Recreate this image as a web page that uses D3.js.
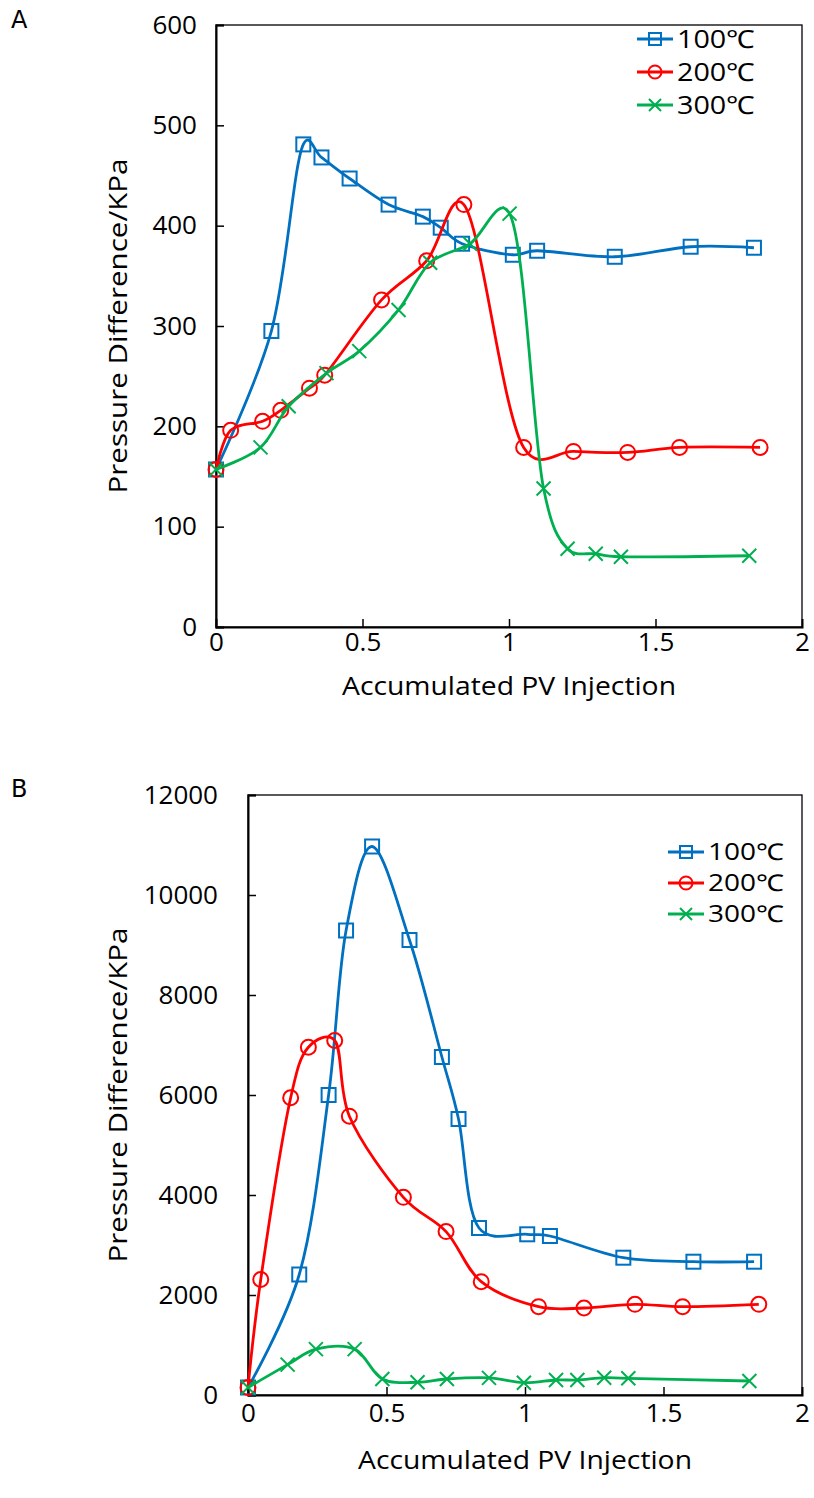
<!DOCTYPE html>
<html>
<head>
<meta charset="utf-8">
<script src="https://cdn.jsdelivr.net/npm/d3@7"></script>
<style>
  body { margin: 0; background: #fff; }
  svg text { fill: #000; }
</style>
</head>
<body>
<div id="chart"></div>
<script>
// ---- data ----
var seriesNames = ["100℃", "200℃", "300℃"];

// panel A (kPa)
var a100x = [0, 0.189, 0.298, 0.360, 0.456, 0.589, 0.706, 0.767, 0.840, 1.013, 1.096, 1.361, 1.620, 1.836];
var a100y = [157, 295, 481, 468, 447, 421, 409, 398, 382, 371, 375, 369, 379, 378];
var a200x = [0, 0.050, 0.159, 0.221, 0.319, 0.371, 0.565, 0.719, 0.846, 1.050, 1.220, 1.405, 1.582, 1.857];
var a200y = [157, 196, 205, 216, 238, 251, 326, 365, 421, 179, 175, 174, 179, 179];
var a300x = [0, 0.152, 0.248, 0.377, 0.489, 0.623, 0.731, 0.867, 1.002, 1.118, 1.200, 1.296, 1.382, 1.820];
var a300y = [157, 179, 220, 253, 275, 316, 363, 382, 412, 138, 78, 73, 70, 71];

// panel B (kPa)
var b100x = [0, 0.185, 0.291, 0.354, 0.448, 0.583, 0.700, 0.760, 0.834, 1.008, 1.090, 1.355, 1.608, 1.827];
var b100y = [150, 2410, 6000, 9290, 10970, 9100, 6760, 5520, 3340, 3214, 3180, 2746, 2666, 2666];
var b200x = [0, 0.046, 0.154, 0.218, 0.313, 0.366, 0.561, 0.715, 0.842, 1.049, 1.213, 1.397, 1.569, 1.844];
var b200y = [150, 2310, 5945, 6955, 7090, 5576, 3954, 3268, 2266, 1766, 1740, 1814, 1766, 1814];
var b300x = [0, 0.143, 0.245, 0.385, 0.485, 0.612, 0.718, 0.870, 0.996, 1.112, 1.189, 1.286, 1.373, 1.810];
var b300y = [150, 607, 917, 917, 320, 254, 320, 342, 246, 300, 300, 346, 334, 280];

var xTicks = [0, 0.5, 1, 1.5, 2];
var yTicksA = [0, 100, 200, 300, 400, 500, 600];
var yTicksB = [0, 2000, 4000, 6000, 8000, 10000, 12000];

var colors = ["#0070C0", "#FF0000", "#00B050"];
var markers = ["square", "circle", "cross"];

var svg = d3.select("#chart").append("svg")
  .attr("width", 814)
  .attr("height", 1498);

function zip(xs, ys) {
  return xs.map(function(x, i) { return {x: x, y: ys[i]}; });
}

function drawMarker(g, type, color, cx, cy, s) {
  s = s || 7;
  if (type == "square") {
    g.append("rect")
      .attr("x", cx - s).attr("y", cy - s)
      .attr("width", 2 * s).attr("height", 2 * s)
      .attr("fill", "none").attr("stroke", color).attr("stroke-width", 2);
  } else if (type == "circle") {
    g.append("circle")
      .attr("cx", cx).attr("cy", cy).attr("r", s + 0.5)
      .attr("fill", "none").attr("stroke", color).attr("stroke-width", 2);
  } else {
    g.append("path")
      .attr("d", "M" + (cx - s) + "," + (cy - s) + "L" + (cx + s) + "," + (cy + s) +
                 "M" + (cx - s) + "," + (cy + s) + "L" + (cx + s) + "," + (cy - s))
      .attr("stroke", color).attr("stroke-width", 2);
  }
}

function drawPanel(cfg) {
  var x = d3.scaleLinear().domain([0, 2]).range([cfg.left, cfg.right]);
  var y = d3.scaleLinear().domain(cfg.yDomain).range([cfg.bottom, cfg.top]);

  var g = svg.append("g");

  // panel letter
  g.append("text")
    .attr("x", 11).attr("y", cfg.letterY)
    .attr("font-family", "'DejaVu Sans', sans-serif")
    .attr("font-size", 24)
    .text(cfg.letter);

  // plot box
  g.append("rect")
    .attr("x", cfg.left).attr("y", cfg.top)
    .attr("width", cfg.right - cfg.left).attr("height", cfg.bottom - cfg.top)
    .attr("fill", "none").attr("stroke", "#000").attr("stroke-width", 1.3);

  // left axis, inward ticks
  var ya = g.append("g")
    .attr("transform", "translate(" + cfg.left + ",0)")
    .call(d3.axisRight(y).tickValues(cfg.yTicks).tickSize(8).tickFormat(d3.format("d")));
  ya.select(".domain").attr("stroke-width", 2);
  ya.selectAll(".tick line").attr("stroke-width", 1.5);
  ya.selectAll(".tick text")
    .attr("x", -cfg.yLabelGap)
    .attr("text-anchor", "end")
    .attr("font-family", "'Open Sans', sans-serif")
    .attr("font-size", 26);

  // bottom axis, inward ticks
  var xa = g.append("g")
    .attr("transform", "translate(0," + cfg.bottom + ")")
    .call(d3.axisTop(x).tickValues(xTicks).tickSize(8).tickFormat(d3.format("")));
  xa.select(".domain").attr("stroke-width", 2);
  xa.selectAll(".tick line").attr("stroke-width", 1.5)
    .attr("display", function(d) { return (d == 0 || d == 2) ? "none" : null; });
  xa.selectAll(".tick text")
    .attr("y", cfg.xLabelGap).attr("dy", "0.36em")
    .attr("font-family", "'Open Sans', sans-serif")
    .attr("font-size", 26);

  // axis titles
  g.append("text")
    .attr("transform", "translate(" + 127 + "," + ((cfg.top + cfg.bottom) / 2) + ") rotate(-90)")
    .attr("text-anchor", "middle")
    .attr("font-family", "'Open Sans', sans-serif")
    .attr("font-size", 26)
    .attr("textLength", 335)
    .attr("lengthAdjust", "spacingAndGlyphs")
    .text("Pressure Difference/KPa");

  g.append("text")
    .attr("x", (cfg.left + cfg.right) / 2)
    .attr("y", cfg.bottom + cfg.xTitleGap)
    .attr("text-anchor", "middle")
    .attr("font-family", "'Open Sans', sans-serif")
    .attr("font-size", 26)
    .attr("textLength", 334)
    .attr("lengthAdjust", "spacingAndGlyphs")
    .text("Accumulated PV Injection");

  // smoothed line like the spreadsheet's "smooth line" option
  var line = d3.line()
    .x(function(d) { return x(d.x); })
    .y(function(d) { return y(d.y); })
    .curve(d3.curveCatmullRom.alpha(0.2));

  cfg.series.forEach(function(s, i) {
    var pts = zip(s[0], s[1]);
    g.append("path")
      .datum(pts)
      .attr("fill", "none")
      .attr("stroke", colors[i])
      .attr("stroke-width", 2.8)
      .attr("stroke-linejoin", "round")
      .attr("d", line);
    pts.forEach(function(p) {
      drawMarker(g, markers[i], colors[i], x(p.x), y(p.y));
    });
  });

  // legend
  seriesNames.forEach(function(name, i) {
    var ly = cfg.legendY + i * cfg.legendStep;
    g.append("line")
      .attr("x1", cfg.legendX).attr("x2", cfg.legendX + 36)
      .attr("y1", ly).attr("y2", ly)
      .attr("stroke", colors[i]).attr("stroke-width", 3);
    drawMarker(g, markers[i], colors[i], cfg.legendX + 18, ly, 6);
    g.append("text")
      .attr("x", cfg.legendX + 40).attr("y", ly)
      .attr("dy", "0.36em")
      .attr("font-family", "'Open Sans', sans-serif")
      .attr("font-size", cfg.legendFont)
      .attr("textLength", cfg.legendWidth)
      .attr("lengthAdjust", "spacingAndGlyphs")
      .text(name);
  });
}

drawPanel({
  letter: "A", letterY: 28,
  left: 216, right: 802, top: 25, bottom: 627,
  yDomain: [0, 600], yTicks: yTicksA, yLabelGap: 19,
  xLabelGap: 15, xTitleGap: 68,
  series: [[a100x, a100y], [a200x, a200y], [a300x, a300y]],
  legendX: 637, legendY: 39, legendStep: 33, legendFont: 25, legendWidth: 78
});

drawPanel({
  letter: "B", letterY: 797,
  left: 248, right: 802, top: 795, bottom: 1395,
  yDomain: [0, 12000], yTicks: yTicksB, yLabelGap: 30,
  xLabelGap: 18, xTitleGap: 74,
  series: [[b100x, b100y], [b200x, b200y], [b300x, b300y]],
  legendX: 668, legendY: 852, legendStep: 31, legendFont: 23, legendWidth: 76
});
</script>
</body>
</html>
